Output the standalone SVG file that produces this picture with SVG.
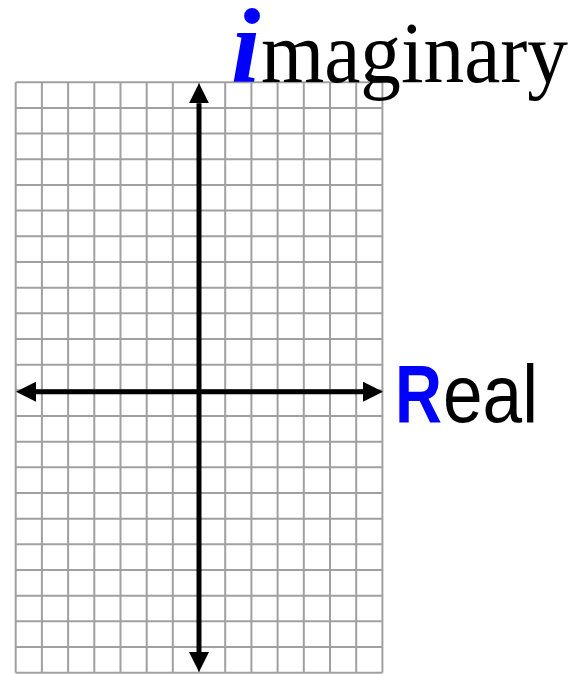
<svg xmlns="http://www.w3.org/2000/svg" width="573" height="674" viewBox="0 0 573 674">
<style>
.grid line{stroke:#a0a0a0;stroke-width:2}
.axis{stroke:#000;stroke-width:5;fill:none}
.serif{font-family:"Liberation Serif","Times New Roman",serif}
.sans{font-family:"Liberation Sans",Arial,sans-serif}
.blue{fill:#0000ff}
</style>
<defs>
<marker id="ah" markerUnits="userSpaceOnUse" markerWidth="20" markerHeight="20" refX="0" refY="10" orient="auto-start-reverse" viewBox="0 0 20 20">
<path d="M0,0 L20,10 L0,20 Z" fill="#000"/>
</marker>
</defs>
<rect width="573" height="674" fill="#fff"/>
<g id="grid" class="grid">
<line x1="15.7" y1="82.3" x2="15.7" y2="672.7"/>
<line x1="41.9" y1="82.3" x2="41.9" y2="672.7"/>
<line x1="68.1" y1="82.3" x2="68.1" y2="672.7"/>
<line x1="94.3" y1="82.3" x2="94.3" y2="672.7"/>
<line x1="120.5" y1="82.3" x2="120.5" y2="672.7"/>
<line x1="146.7" y1="82.3" x2="146.7" y2="672.7"/>
<line x1="172.8" y1="82.3" x2="172.8" y2="672.7"/>
<line x1="199.0" y1="82.3" x2="199.0" y2="672.7"/>
<line x1="225.2" y1="82.3" x2="225.2" y2="672.7"/>
<line x1="251.4" y1="82.3" x2="251.4" y2="672.7"/>
<line x1="277.6" y1="82.3" x2="277.6" y2="672.7"/>
<line x1="303.8" y1="82.3" x2="303.8" y2="672.7"/>
<line x1="330.0" y1="82.3" x2="330.0" y2="672.7"/>
<line x1="356.2" y1="82.3" x2="356.2" y2="672.7"/>
<line x1="382.4" y1="82.3" x2="382.4" y2="672.7"/>
<line x1="15.7" y1="82.3" x2="382.4" y2="82.3"/>
<line x1="15.7" y1="108.0" x2="382.4" y2="108.0"/>
<line x1="15.7" y1="133.6" x2="382.4" y2="133.6"/>
<line x1="15.7" y1="159.3" x2="382.4" y2="159.3"/>
<line x1="15.7" y1="185.0" x2="382.4" y2="185.0"/>
<line x1="15.7" y1="210.6" x2="382.4" y2="210.6"/>
<line x1="15.7" y1="236.3" x2="382.4" y2="236.3"/>
<line x1="15.7" y1="262.0" x2="382.4" y2="262.0"/>
<line x1="15.7" y1="287.7" x2="382.4" y2="287.7"/>
<line x1="15.7" y1="313.3" x2="382.4" y2="313.3"/>
<line x1="15.7" y1="339.0" x2="382.4" y2="339.0"/>
<line x1="15.7" y1="364.7" x2="382.4" y2="364.7"/>
<line x1="15.7" y1="390.3" x2="382.4" y2="390.3"/>
<line x1="15.7" y1="416.0" x2="382.4" y2="416.0"/>
<line x1="15.7" y1="441.7" x2="382.4" y2="441.7"/>
<line x1="15.7" y1="467.3" x2="382.4" y2="467.3"/>
<line x1="15.7" y1="493.0" x2="382.4" y2="493.0"/>
<line x1="15.7" y1="518.7" x2="382.4" y2="518.7"/>
<line x1="15.7" y1="544.3" x2="382.4" y2="544.3"/>
<line x1="15.7" y1="570.0" x2="382.4" y2="570.0"/>
<line x1="15.7" y1="595.7" x2="382.4" y2="595.7"/>
<line x1="15.7" y1="621.3" x2="382.4" y2="621.3"/>
<line x1="15.7" y1="647.0" x2="382.4" y2="647.0"/>
<line x1="15.7" y1="672.7" x2="382.4" y2="672.7"/>
</g>
<g id="axes">
<line id="imag-axis" class="axis" x1="199" y1="103.3" x2="199" y2="652" marker-start="url(#ah)" marker-end="url(#ah)"/>
<line id="real-axis" class="axis" x1="36" y1="391.7" x2="363" y2="391.7" marker-start="url(#ah)" marker-end="url(#ah)"/>
</g>
<g id="label-imaginary">
<text class="serif" y="82"><tspan class="blue" x="231" font-weight="bold" font-style="italic" font-size="106">i</tspan><tspan fill="#000" x="261" font-size="86" textLength="307" lengthAdjust="spacingAndGlyphs">maginary</tspan></text>
</g>
<g id="label-real">
<text class="sans" y="421.5" font-size="81"><tspan class="blue" x="395" font-weight="bold" textLength="47" lengthAdjust="spacingAndGlyphs">R</tspan><tspan fill="#000" x="443" textLength="95" lengthAdjust="spacingAndGlyphs">eal</tspan></text>
</g>
</svg>
